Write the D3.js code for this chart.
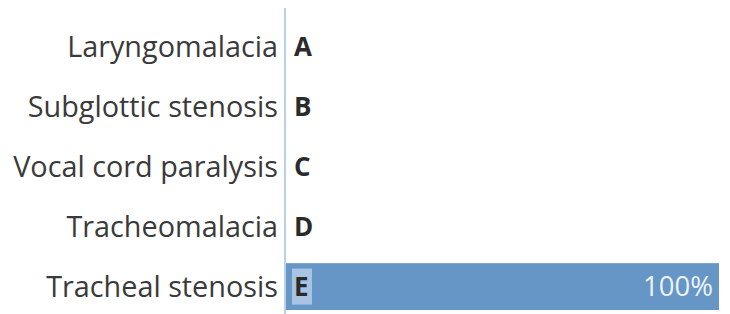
<!DOCTYPE html>
<html>
<head>
<meta charset="utf-8">
<script src="https://cdn.jsdelivr.net/npm/d3@7"></script>
<style>
  body { margin: 0; background: #fff; }
  svg text { font-family: "Open Sans", "Noto Sans", sans-serif; }
</style>
</head>
<body>
<div id="chart"></div>
<script>
var categories = ["Laryngomalacia", "Subglottic stenosis", "Vocal cord paralysis", "Tracheomalacia", "Tracheal stenosis"];
var letters = ["A", "B", "C", "D", "E"];
var values = [0, 0, 0, 0, 100];

var width = 730, height = 314;
var margin = {top: 23, right: 11, bottom: 4, left: 286};

var svg = d3.select("#chart").append("svg")
  .attr("width", width)
  .attr("height", height);

var x = d3.scaleLinear()
  .domain([0, 100])
  .range([margin.left, width - margin.right]);

var y = d3.scaleBand()
  .domain(categories)
  .range([margin.top, height - margin.bottom])
  .paddingInner(0.22)
  .paddingOuter(0);

// bars
svg.selectAll(".bar")
  .data(values)
  .enter().append("rect")
  .attr("class", "bar")
  .attr("x", x(0))
  .attr("y", function(d, i) { return y(categories[i]); })
  .attr("width", function(d) { return x(d) - x(0); })
  .attr("height", y.bandwidth())
  .attr("fill", "#6596c6");

// axis line
svg.append("line")
  .attr("x1", x(0) - 1).attr("x2", x(0) - 1)
  .attr("y1", 8).attr("y2", height)
  .attr("stroke", "#b9d0e8")
  .attr("stroke-width", 2);

// highlight box behind letter when bar present
svg.selectAll(".hl")
  .data(values)
  .enter().filter(function(d) { return d > 0; }).append("rect")
  .attr("x", x(0) + 6)
  .attr("y", function(d, i) { return y(categories[4]) + y.bandwidth() / 2 - 18; })
  .attr("width", 20)
  .attr("height", 36)
  .attr("fill", "#a8c4e2");

// category labels
svg.selectAll(".cat")
  .data(categories)
  .enter().append("text")
  .attr("class", "cat")
  .attr("x", x(0) - 8)
  .attr("y", function(d) { return y(d) + y.bandwidth() / 2; })
  .attr("dy", "0.36em")
  .attr("text-anchor", "end")
  .attr("font-size", 28.8)
  .attr("fill", "#3a3a3a")
  .text(function(d) { return d; });

// letters
svg.selectAll(".letter")
  .data(letters)
  .enter().append("text")
  .attr("class", "letter")
  .attr("x", x(0) + 8)
  .attr("y", function(d, i) { return y(categories[i]) + y.bandwidth() / 2; })
  .attr("dy", "0.36em")
  .attr("font-size", 26)
  .attr("font-weight", "bold")
  .attr("fill", "#2b2b2b")
  .text(function(d) { return d; });

// value labels
svg.selectAll(".val")
  .data(values)
  .enter().filter(function(d) { return d > 0; }).append("text")
  .attr("class", "val")
  .attr("x", function(d) { return x(d) - 6; })
  .attr("y", y(categories[4]) + y.bandwidth() / 2)
  .attr("dy", "0.36em")
  .attr("text-anchor", "end")
  .attr("font-size", 27.5)
  .attr("fill", "#eef3f9")
  .text(function(d) { return d + "%"; });
</script>
</body>
</html>
